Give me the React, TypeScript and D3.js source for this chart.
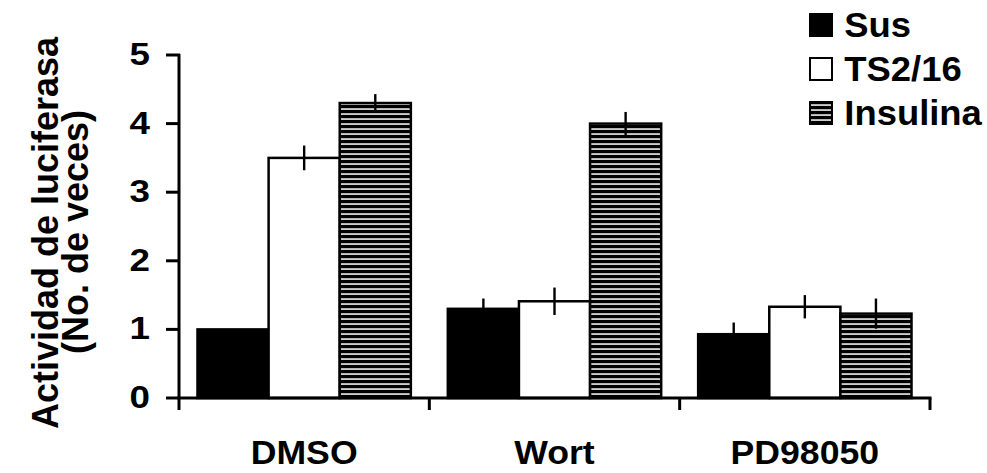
import React from 'react';
import * as d3 from 'd3';

const groups = ['DMSO', 'Wort', 'PD98050'];
const series = ['Sus', 'TS2/16', 'Insulina'];
const values = [
  [1.0, 1.3, 0.93],   // Sus
  [3.5, 1.41, 1.33],  // TS2/16
  [4.3, 4.0, 1.23],   // Insulina
];
const errors = [
  [0.0, 0.15, 0.17],
  [0.18, 0.2, 0.17],
  [0.13, 0.17, 0.22],
];
const yTicks = [0, 1, 2, 3, 4, 5];

const width = 987;
const height = 473;
const font = '"Liberation Sans", Arial, sans-serif';

export default function App() {
  const x0 = d3.scaleBand().domain(groups).range([179, 930]).padding(0);
  const x1 = d3.scaleBand().domain(series).range([0, x0.bandwidth()]).paddingInner(0).paddingOuter(0.26);
  const y = d3.scaleLinear().domain([0, 5]).range([398, 55]);

  const fillFor = (i: number) => (i === 0 ? '#000' : i === 1 ? '#fff' : 'url(#hatch)');

  const boundaries = groups.map((g) => (x0(g) as number) + x0.bandwidth());

  return (
    <svg width={width} height={height} style={{ position: 'absolute', left: 0, top: 0, background: '#fff' }}>
      <defs>
        <pattern id="hatch" patternUnits="userSpaceOnUse" width={8} height={5}>
          <rect width={8} height={5} fill="#000" />
          <rect y={3.3} width={8} height={1.5} fill="#fff" />
        </pattern>
      </defs>

      {/* bars */}
      {series.map((s, si) =>
        groups.map((g, gi) => {
          const bx = (x0(g) as number) + (x1(s) as number);
          const v = values[si][gi];
          return (
            <rect
              key={s + g}
              x={bx}
              y={y(v)}
              width={x1.bandwidth()}
              height={y(0) - y(v)}
              fill={fillFor(si)}
              stroke="#000"
              strokeWidth={2.5}
            />
          );
        })
      )}

      {/* error bars */}
      {series.map((s, si) =>
        groups.map((g, gi) => {
          const e = errors[si][gi];
          if (!e) return null;
          const cx = (x0(g) as number) + (x1(s) as number) + x1.bandwidth() / 2;
          const v = values[si][gi];
          return <line key={'e' + s + g} x1={cx} x2={cx} y1={y(v + e)} y2={y(v - e)} stroke="#000" strokeWidth={2.4} />;
        })
      )}

      {/* y axis */}
      <line x1={179} x2={179} y1={y(5) - 1} y2={410} stroke="#000" strokeWidth={3} />
      {yTicks.map((t) => (
        <g key={t}>
          <line x1={166} x2={180} y1={y(t)} y2={y(t)} stroke="#000" strokeWidth={3} />
          <text
            transform={`translate(150,${y(t) + 10}) scale(1.15,1)`}
            textAnchor="end"
            fontFamily={font}
            fontWeight="bold"
            fontSize={32}
          >
            {t}
          </text>
        </g>
      ))}

      {/* x axis */}
      <line x1={177.5} x2={931.5} y1={398} y2={398} stroke="#000" strokeWidth={3} />
      {boundaries.map((bx, i) => (
        <line key={i} x1={bx} x2={bx} y1={398} y2={410} stroke="#000" strokeWidth={3} />
      ))}
      {groups.map((g) => (
        <text
          key={g}
          transform={`translate(${(x0(g) as number) + x0.bandwidth() / 2},464) scale(1.08,1)`}
          textAnchor="middle"
          fontFamily={font}
          fontWeight="bold"
          fontSize={33}
        >
          {g}
        </text>
      ))}

      {/* y title */}
      <text
        transform="translate(58,233) rotate(-90)"
        textAnchor="middle"
        fontFamily={font}
        fontWeight="bold"
        fontSize={36}
      >
        Actividad de luciferasa
      </text>
      <text
        transform="translate(88,232) rotate(-90)"
        textAnchor="middle"
        fontFamily={font}
        fontWeight="bold"
        fontSize={36}
      >
        (No. de veces)
      </text>

      {/* legend */}
      {series.map((s, i) => (
        <g key={s} transform={`translate(809,${13 + i * 44})`}>
          <rect x={1} y={1} width={22} height={22} fill={fillFor(i)} stroke="#000" strokeWidth={2} />
          <text x={34} y={24} fontFamily={font} fontWeight="bold" fontSize={35} transform="scale(1.04,1)">
            {s}
          </text>
        </g>
      ))}
    </svg>
  );
}
